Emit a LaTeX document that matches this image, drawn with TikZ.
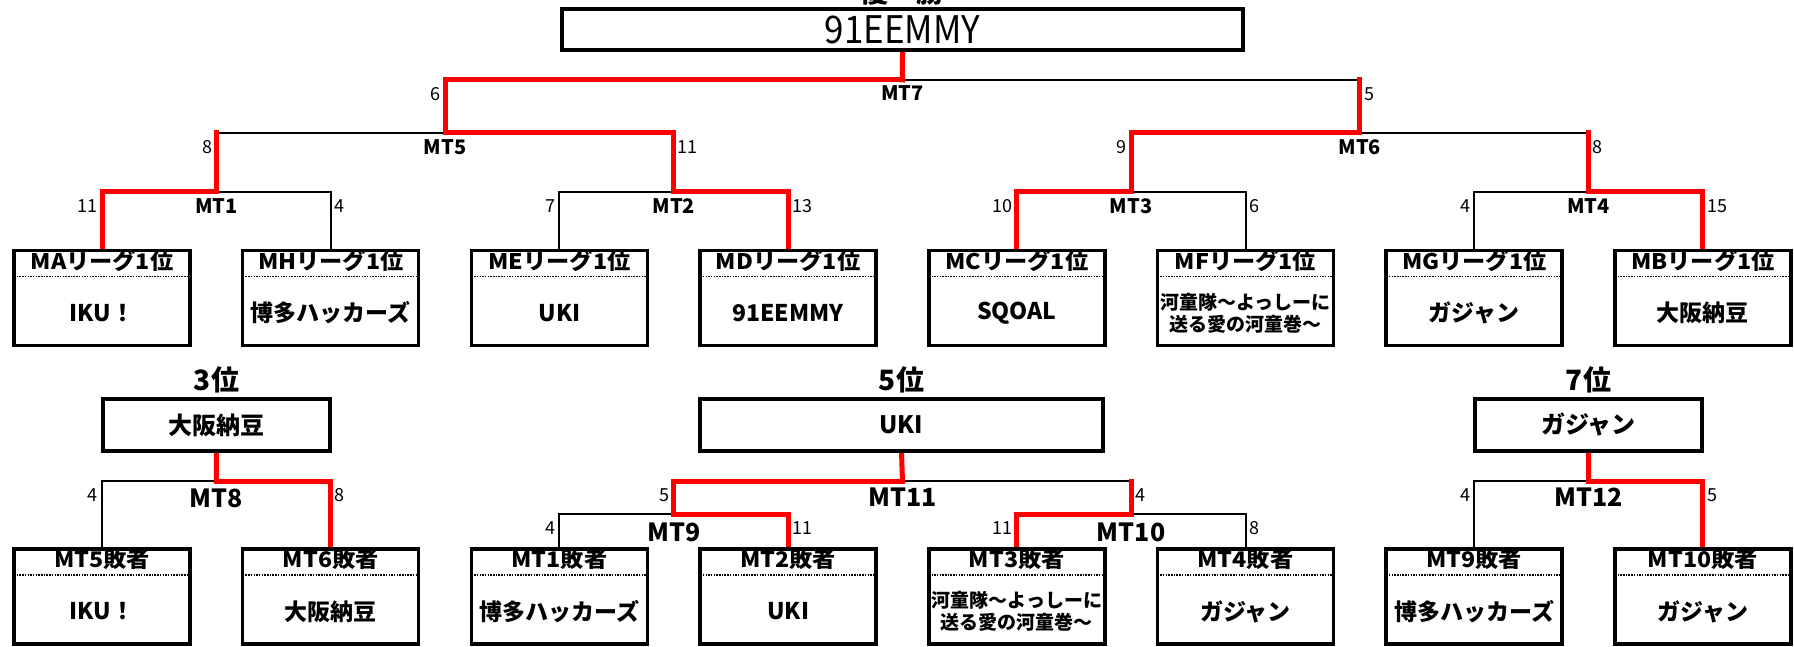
\documentclass[tikz,border=0pt]{standalone}
\usepackage{fontspec}
\setmainfont{Noto Sans CJK JP}
\newfontfamily\widef[FakeStretch=1.08]{Noto Sans CJK JP}
\newfontfamily\topf[FakeStretch=0.92]{Noto Sans CJK JP}
\usetikzlibrary{calc}
\tikzset{
  leafbox/.style={draw, line width=3.5pt, fill=white, minimum width=176pt, minimum height=95pt, inner sep=0pt},
  resbox/.style={draw, line width=3.5pt, fill=white, minimum height=52pt, inner sep=0pt},
  thinl/.style={draw=black, line width=2pt},
  win/.style={draw=red, line width=5pt, line cap=rect},
  dotl/.style={line width=1.5pt, dash pattern=on 1.5pt off 1.2pt},
  hdr/.style={font=\widef\bfseries\fontsize{21.5}{21.5}\selectfont, inner sep=0pt},
  team/.style={font=\bfseries\fontsize{23}{23}\selectfont, inner sep=0pt, align=center},
  teamsm/.style={font=\bfseries\fontsize{19}{22}\selectfont, inner sep=0pt, align=center},
  mtl/.style={font=\bfseries\fontsize{20}{20}\selectfont, inner sep=0pt},
  mtb/.style={font=\bfseries\fontsize{25}{25}\selectfont, inner sep=0pt},
  score/.style={font=\fontsize{18}{18}\selectfont, inner sep=0pt},
  rank/.style={font=\bfseries\fontsize{28}{28}\selectfont, inner sep=0pt},
  restext/.style={font=\bfseries\fontsize{24}{24}\selectfont},
}
% leaf box: [team style]{name}{x}{y}{header}{team}
\newcommand\lf[6][team]{%
  \node[leafbox] (#2) at (#3,#4) {};
  \node[hdr] (#2h) at ($(#2.north)+(0,12.5)$) {#5};
  \draw[dotl] ($(#2.north west)+(1.75,27.5)$) -- ($(#2.north east)+(-1.75,27.5)$);
  \node[#1] (#2t) at ($(#2.center)+(0,15)$) {#6};
}
% match labels: [style]{m}{offset}{left ref}{right ref}{label}{left score}{right score}
\newcommand\mt[8][mtl]{%
  \node[#1] (#2lab) at ($(#2)+(0,#3)$) {#6};
  \node[score,anchor=east] (#2ls) at ($(#4 |- #2)+(-4,14)$) {#7};
  \node[score,anchor=west] (#2rs) at ($(#5 |- #2)+(4,14)$) {#8};
}
\begin{document}
\begin{tikzpicture}[x=1pt,y=-1pt]
\useasboundingbox (0,0) rectangle (1794,647);
% match coordinates
\coordinate (m1) at (216.35,192);
\coordinate (m2) at (673.75,192);
\coordinate (m3) at (1131.15,192);
\coordinate (m4) at (1588.55,192);
\coordinate (m5) at (445.05,133);
\coordinate (m6) at (1359.85,133);
\coordinate (m7) at (902.45,80);
\coordinate (m8) at (216.35,481);
\coordinate (m9) at (673.75,514);
\coordinate (m10) at (1131.15,514);
\coordinate (m11) at (902.45,481);
\coordinate (m12) at (1588.55,481);
% box positions (invisible placeholders; boxes drawn on top later)
\path
  node[leafbox, draw=none, fill=none] (P1) at (102,298) {}
  node[leafbox, draw=none, fill=none] (P2) at (330.7,298) {}
  node[leafbox, draw=none, fill=none] (P3) at (559.4,298) {}
  node[leafbox, draw=none, fill=none] (P4) at (788.1,298) {}
  node[leafbox, draw=none, fill=none] (P5) at (1016.8,298) {}
  node[leafbox, draw=none, fill=none] (P6) at (1245.5,298) {}
  node[leafbox, draw=none, fill=none] (P7) at (1474.2,298) {}
  node[leafbox, draw=none, fill=none] (P8) at (1702.9,298) {}
  node[leafbox, draw=none, fill=none] (Q1) at (102,596.5) {}
  node[leafbox, draw=none, fill=none] (Q2) at (330.7,596.5) {}
  node[leafbox, draw=none, fill=none] (Q3) at (559.4,596.5) {}
  node[leafbox, draw=none, fill=none] (Q4) at (788.1,596.5) {}
  node[leafbox, draw=none, fill=none] (Q5) at (1016.8,596.5) {}
  node[leafbox, draw=none, fill=none] (Q6) at (1245.5,596.5) {}
  node[leafbox, draw=none, fill=none] (Q7) at (1474.2,596.5) {}
  node[leafbox, draw=none, fill=none] (Q8) at (1702.9,596.5) {};
\path
  node[minimum width=681pt, minimum height=41pt, inner sep=0pt] (top) at (902.5,29.5) {}
  node[minimum width=227pt, minimum height=52pt, inner sep=0pt] (r3) at (216.5,425) {}
  node[minimum width=403pt, minimum height=52pt, inner sep=0pt] (r5) at (901.5,425) {}
  node[minimum width=227pt, minimum height=52pt, inner sep=0pt] (r7) at (1588.5,425) {};
% black bracket lines
\draw[thinl] (P1.north) |- (m1) -| (P2.north);
\draw[thinl] (P3.north) |- (m2) -| (P4.north);
\draw[thinl] (P5.north) |- (m3) -| (P6.north);
\draw[thinl] (P7.north) |- (m4) -| (P8.north);
\draw[thinl] (m1) |- (m5) -| (m2);
\draw[thinl] (m3) |- (m6) -| (m4);
\draw[thinl] (m5) |- (m7) -| (m6);
\draw[thinl] (Q1.north) |- (m8) -| (Q2.north);
\draw[thinl] (Q3.north) |- (m9) -| (Q4.north);
\draw[thinl] (Q5.north) |- (m10) -| (Q6.north);
\draw[thinl] (Q7.north) |- (m12) -| (Q8.north);
\draw[thinl] (m9) |- (m11) -| (m10);
% red winner paths
\draw[win] (P1.north) |- (m1);
\draw[win] (P4.north) |- (m2);
\draw[win] (P5.north) |- (m3);
\draw[win] (P8.north) |- (m4);
\draw[win] (m1) -- (m1 |- m5);
\draw[win] (m2) |- (m5);
\draw[win] (m3) |- (m6);
\draw[win] (m4) -- (m4 |- m6);
\draw[win] (m5) |- (m7);
\draw[win] (m6) -- (m6 |- m7);
\draw[win] (m7) -- (top.south);
\draw[win] (Q2.north) |- (m8);
\draw[win] (m8) -- (r3.south);
\draw[win] (Q4.north) |- (m9);
\draw[win] (Q5.north) |- (m10);
\draw[win] (m9) |- (m11);
\draw[win] (m10) -- (m10 |- m11);
\draw[win] (m11) -- (r5.south);
\draw[win] (Q8.north) |- (m12);
\draw[win] (m12) -- (r7.south);
% result boxes on top of lines
\node[draw, line width=3.5pt, fill=white, minimum width=681pt, minimum height=41pt, inner sep=0pt,
      font=\topf\fontsize{38}{38}\selectfont] (topb) at (top) {91EEMMY};
\node[resbox, minimum width=227pt, restext] (r3b) at (r3) {大阪納豆};
\node[resbox, minimum width=403pt, restext] (r5b) at (r5) {UKI};
\node[resbox, minimum width=227pt, restext] (r7b) at (r7) {ガジャン};
% leaf boxes
\lf{L1}{102}{298}{MAリーグ1位}{IKU！}
\lf{L2}{330.7}{298}{MHリーグ1位}{博多ハッカーズ}
\lf{L3}{559.4}{298}{MEリーグ1位}{UKI}
\lf{L4}{788.1}{298}{MDリーグ1位}{91EEMMY}
\lf{L5}{1016.8}{298}{MCリーグ1位}{SQOAL}
\lf[teamsm]{L6}{1245.5}{298}{MFリーグ1位}{河童隊～よっしーに\\送る愛の河童巻～}
\lf{L7}{1474.2}{298}{MGリーグ1位}{ガジャン}
\lf{L8}{1702.9}{298}{MBリーグ1位}{大阪納豆}
\lf{B1}{102}{596.5}{MT5敗者}{IKU！}
\lf{B2}{330.7}{596.5}{MT6敗者}{大阪納豆}
\lf{B3}{559.4}{596.5}{MT1敗者}{博多ハッカーズ}
\lf{B4}{788.1}{596.5}{MT2敗者}{UKI}
\lf[teamsm]{B5}{1016.8}{596.5}{MT3敗者}{河童隊～よっしーに\\送る愛の河童巻～}
\lf{B6}{1245.5}{596.5}{MT4敗者}{ガジャン}
\lf{B7}{1474.2}{596.5}{MT9敗者}{博多ハッカーズ}
\lf{B8}{1702.9}{596.5}{MT10敗者}{ガジャン}
% rank labels
\node[rank] (champ) at (902.5,-8) {優　勝};
\node[rank] (k3) at (216.5,380) {3位};
\node[rank] (k5) at (901.5,380) {5位};
\node[rank] (k7) at (1588.5,380) {7位};
% match labels and scores
\mt{m1}{14}{P1.north}{P2.north}{MT1}{11}{4}
\mt{m2}{14}{P3.north}{P4.north}{MT2}{7}{13}
\mt{m3}{14}{P5.north}{P6.north}{MT3}{10}{6}
\mt{m4}{14}{P7.north}{P8.north}{MT4}{4}{15}
\mt{m5}{14}{m1}{m2}{MT5}{8}{11}
\mt{m6}{14}{m3}{m4}{MT6}{9}{8}
\mt{m7}{13}{m5}{m6}{MT7}{6}{5}
\mt[mtb]{m8}{17}{Q1.north}{Q2.north}{MT8}{4}{8}
\mt[mtb]{m9}{18}{Q3.north}{Q4.north}{MT9}{4}{11}
\mt[mtb]{m10}{18}{Q5.north}{Q6.north}{MT10}{11}{8}
\mt[mtb]{m11}{16}{m9}{m10}{MT11}{5}{4}
\mt[mtb]{m12}{16}{Q7.north}{Q8.north}{MT12}{4}{5}
\end{tikzpicture}
\end{document}
